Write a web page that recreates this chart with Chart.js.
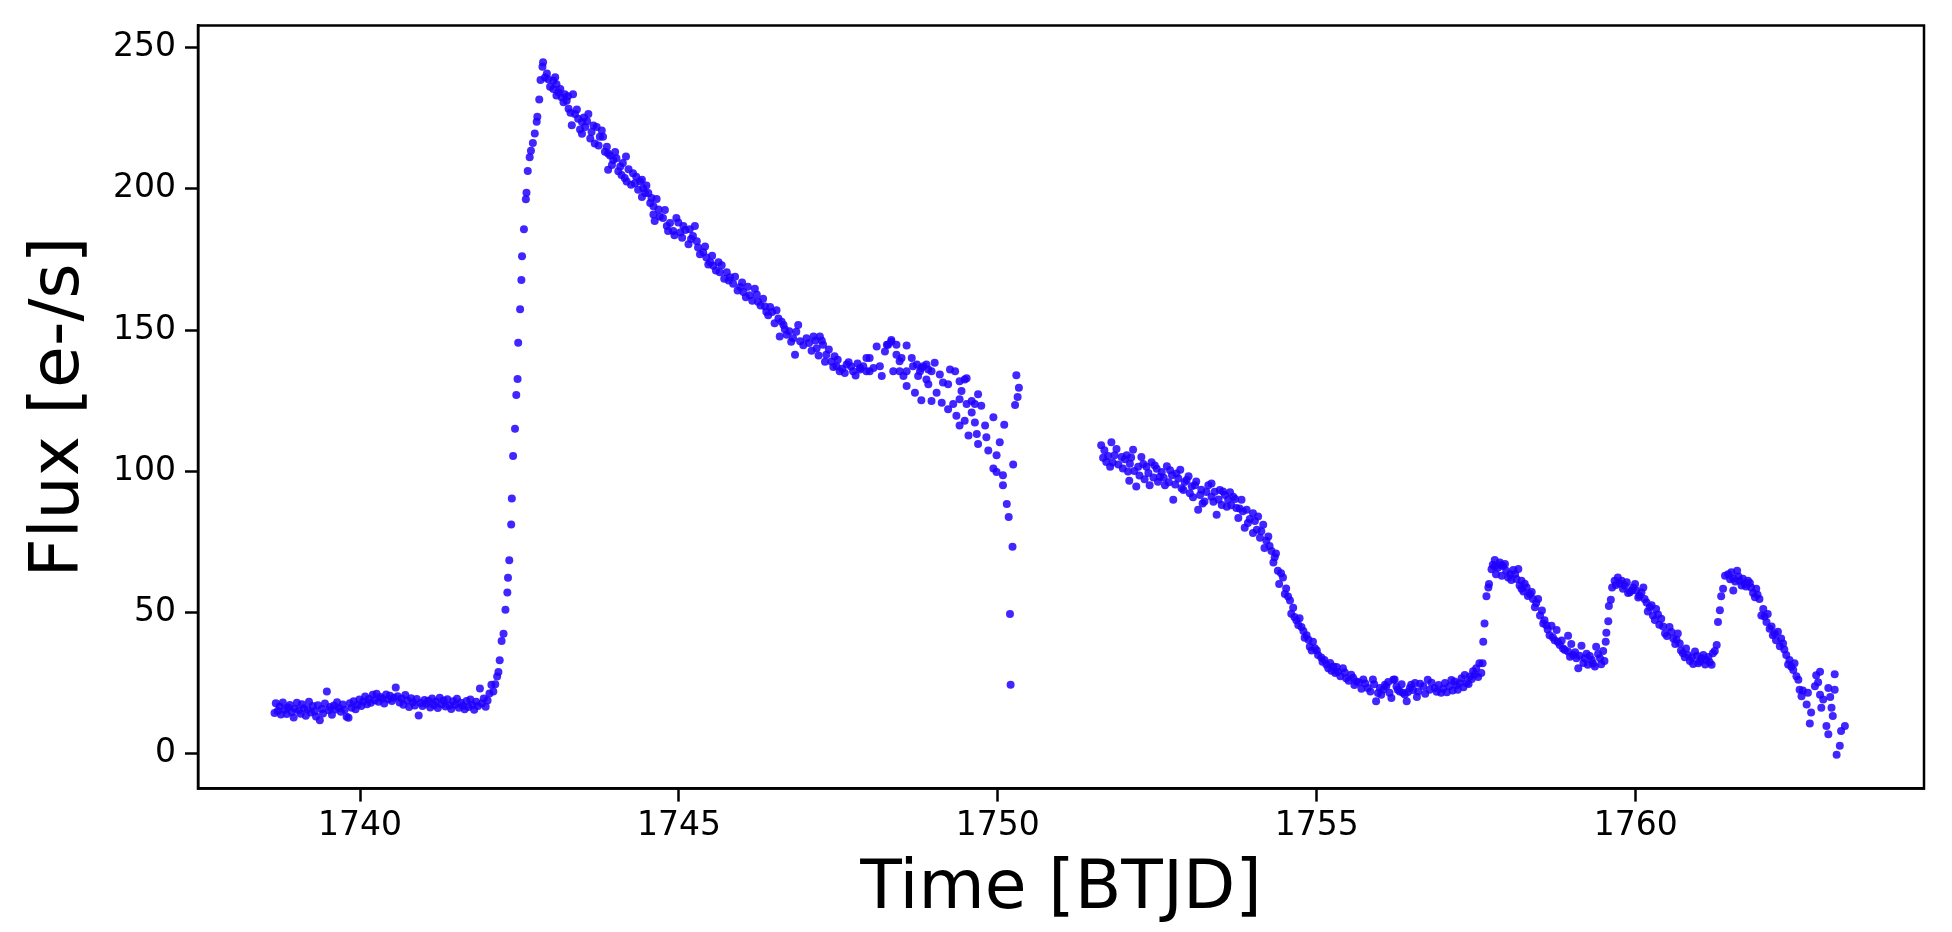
<!DOCTYPE html>
<html>
<head>
<meta charset="utf-8">
<script src="https://cdn.jsdelivr.net/npm/chart.js@4.4.1/dist/chart.umd.min.js"></script>
<style>
  html, body { margin: 0; padding: 0; background: #fff; }
</style>
</head>
<body>
<canvas id="chart" width="1952" height="932"></canvas>
<script>
const xTicks = [1740, 1745, 1750, 1755, 1760];
const yTicks = [0, 50, 100, 150, 200, 250];

// [time BTJD, flux e-/s]
const quiet = [
  [1738.66,14.5],[1738.68,17.9],[1738.71,15.2],[1738.74,16.8],[1738.76,13.9],[1738.79,18.2],[1738.82,15.6],[1738.85,14.1],
  [1738.87,16.4],[1738.90,17.3],[1738.93,14.8],[1738.96,12.9],[1738.98,16.0],[1739.01,18.1],[1739.04,15.3],[1739.07,14.2],
  [1739.09,17.6],[1739.12,16.1],[1739.15,13.5],[1739.18,15.8],[1739.20,18.4],[1739.23,14.6],[1739.26,16.9],[1739.29,15.1],
  [1739.31,13.2],[1739.34,17.2],[1739.37,11.9],[1739.40,15.9],[1739.42,14.3],[1739.45,17.8],[1739.48,22.1],[1739.51,15.4],
  [1739.53,16.6],[1739.56,13.8],[1739.59,17.1],[1739.62,15.7],[1739.64,18.3],[1739.67,16.2],[1739.70,14.9],[1739.73,17.5],
  [1739.76,15.6],[1739.79,13.1],[1739.82,12.8],[1739.84,17.9],[1739.87,16.3],[1739.90,18.6],[1739.93,15.8],[1739.96,17.4],
  [1739.99,19.2],[1740.02,16.9],[1740.05,18.5],[1740.08,20.3],[1740.11,17.6],[1740.14,19.4],[1740.17,18.1],[1740.20,20.9],
  [1740.23,19.0],[1740.26,21.3],[1740.29,18.4],[1740.32,20.1],[1740.35,19.5],[1740.38,17.8],[1740.41,21.0],[1740.44,19.3],
  [1740.47,20.6],[1740.50,18.7],[1740.53,19.9],[1740.56,23.5],[1740.59,20.4],[1740.62,18.2],[1740.65,19.6],[1740.68,17.4],
  [1740.71,20.8],[1740.74,18.9],[1740.77,16.6],[1740.80,19.7],[1740.83,18.3],[1740.86,17.1],[1740.89,19.4],[1740.92,13.6],
  [1740.95,18.0],[1740.98,16.9],[1741.01,19.1],[1741.04,17.7],[1741.07,18.8],[1741.10,16.4],[1741.13,19.6],[1741.16,17.3],
  [1741.19,18.5],[1741.22,16.2],[1741.25,19.9],[1741.28,17.6],[1741.31,18.9],[1741.34,16.8],[1741.37,19.3],[1741.40,17.1],
  [1741.43,15.9],[1741.46,18.6],[1741.49,17.4],[1741.52,19.5],[1741.55,16.3],[1741.58,18.1],[1741.61,17.0],[1741.64,15.8],
  [1741.67,18.7],[1741.70,16.6],[1741.73,19.2],[1741.76,17.3],[1741.79,15.6],[1741.82,18.4],[1741.85,16.9],[1741.88,23.1],
  [1741.91,17.8],[1741.94,19.6],[1741.97,16.7],[1742.00,18.9],[1742.03,21.4],[1742.06,24.5],[1742.09,22.1],[1742.12,24.6],
  [1742.15,27.4]
];

const rise = [
  [1742.17,29.0],[1742.19,33.1],[1742.22,39.9],[1742.25,42.5],[1742.28,51.0],[1742.31,57.1],[1742.32,62.3],[1742.34,68.5],
  [1742.37,81.2],[1742.38,90.4],[1742.40,105.4],[1742.43,115.1],[1742.45,127.0],[1742.47,132.7],[1742.48,145.5],[1742.51,157.4],
  [1742.53,167.7],[1742.54,176.1],[1742.57,185.7],[1742.60,196.3],[1742.61,198.6],[1742.63,206.3],[1742.66,211.2],[1742.68,213.5],
  [1742.71,216.2],[1742.74,219.6],[1742.77,223.7],[1742.78,225.5],[1742.81,231.6],[1742.83,238.5],[1742.86,243.2],[1742.87,244.8]
];

const decay = [
  [1742.90,239.4],[1742.93,240.8],[1742.95,238.8],[1742.98,236.1],[1743.03,238.2],[1743.03,235.3],[1743.06,239.5],[1743.08,237.0],
  [1743.08,233.0],[1743.11,234.2],[1743.14,235.3],[1743.16,232.4],[1743.19,230.6],[1743.21,233.5],[1743.24,231.2],[1743.26,232.8],
  [1743.27,228.3],[1743.30,226.9],[1743.32,222.5],[1743.34,233.5],[1743.37,226.5],[1743.40,228.1],[1743.42,224.8],[1743.45,221.0],
  [1743.48,223.6],[1743.48,219.5],[1743.51,225.2],[1743.53,221.9],[1743.56,223.9],[1743.58,226.5],[1743.61,217.8],[1743.63,220.1],
  [1743.66,222.4],[1743.68,216.0],[1743.71,221.9],[1743.74,215.3],[1743.76,218.4],[1743.79,220.6],[1743.81,218.4],[1743.84,213.1],
  [1743.87,214.9],[1743.89,212.5],[1743.89,206.7],[1743.92,211.8],[1743.95,208.4],[1743.97,210.2],[1744.00,213.0],[1744.02,210.8],
  [1744.05,206.2],[1744.08,207.9],[1744.10,204.9],[1744.12,209.1],[1744.15,203.8],[1744.17,211.4],[1744.18,202.6],[1744.21,206.9],
  [1744.25,201.4],[1744.28,205.5],[1744.31,202.0],[1744.33,204.3],[1744.36,199.7],[1744.39,202.6],[1744.42,203.2],[1744.42,197.1],
  [1744.44,200.2],[1744.47,198.5],[1744.49,201.2],[1744.52,198.5],[1744.55,195.0],[1744.57,196.7],[1744.60,193.8],[1744.60,190.9],
  [1744.62,188.6],[1744.65,196.4],[1744.68,192.7],[1744.70,190.2],[1744.75,189.7],[1744.78,192.5],[1744.81,186.8],[1744.83,185.1],
  [1744.86,187.9],[1744.91,185.1],[1744.93,183.6],[1744.96,189.7],[1744.99,188.1],[1745.02,184.5],[1745.05,182.7],[1745.07,186.8],
  [1745.10,185.4],[1745.15,180.4],[1745.17,185.7],[1745.19,182.2],[1745.22,183.3],[1745.25,186.8],[1745.28,181.4],[1745.30,179.2],
  [1745.33,176.8],[1745.38,177.5],[1745.41,179.6],[1745.43,175.7],[1745.46,173.2],[1745.49,174.0],[1745.52,176.3],[1745.54,172.8],
  [1745.58,171.1],[1745.62,174.0],[1745.64,170.5],[1745.67,172.9],[1745.71,168.2],[1745.75,170.5],[1745.78,167.5],[1745.80,168.7],
  [1745.85,166.4],[1745.88,168.9],[1745.92,164.0],[1745.96,165.2],[1745.99,166.8],[1746.01,163.5],[1746.05,161.6],[1746.08,165.3],
  [1746.11,162.3],[1746.15,160.4],[1746.19,164.6],[1746.22,162.6],[1746.24,160.0],[1746.28,158.7],[1746.32,161.1],[1746.35,158.3],
  [1746.37,156.5],[1746.40,155.2],[1746.43,158.2],[1746.46,156.4],[1746.50,152.4],[1746.53,157.0],[1746.56,154.1],[1746.58,147.7],
  [1746.61,152.9],[1746.64,151.8],[1746.66,150.3],[1746.69,148.3],[1746.73,149.6],[1746.76,145.9],[1746.79,147.1],[1746.82,141.3],
  [1746.84,149.4],[1746.87,151.8],[1746.90,146.0],[1746.95,144.6],[1747.00,147.1],[1747.04,145.4],[1747.08,142.7],[1747.11,147.7],
  [1747.14,146.3],[1747.16,143.6],[1747.19,141.0],[1747.21,147.7],[1747.24,146.2],[1747.26,144.8],[1747.29,138.8],[1747.31,141.3],
  [1747.35,143.1],[1747.39,138.9],[1747.42,136.9],[1747.44,140.7],[1747.47,137.2],[1747.49,139.5],[1747.52,135.4],[1747.56,136.3],
  [1747.60,134.8],[1747.63,137.8],[1747.66,138.6],[1747.70,137.1],[1747.73,135.4],[1747.77,133.9],[1747.80,138.2],[1747.84,136.0],
  [1747.84,136.6],[1747.89,137.2],[1747.94,135.4],[1747.94,140.1],[1747.99,140.1],[1747.99,135.4],[1748.05,136.6],[1748.10,144.2],
  [1748.15,137.2],[1748.18,133.7],[1748.23,142.4],[1748.26,144.8],[1748.28,144.8],[1748.33,146.5],[1748.33,145.9],[1748.36,135.4],
  [1748.41,144.8],[1748.41,141.3],[1748.46,135.4],[1748.46,139.0],[1748.49,140.1],[1748.52,133.7],[1748.57,144.5],[1748.57,130.2],
  [1748.57,135.4],[1748.65,140.1],[1748.67,137.2],[1748.70,127.8],[1748.73,137.8],[1748.75,133.7],[1748.78,135.4],[1748.80,136.6],
  [1748.80,125.2],[1748.83,137.2],[1748.88,137.8],[1748.88,132.5],[1748.91,130.8],[1748.91,136.0],[1748.96,135.4],[1748.96,124.9],
  [1749.01,138.4],[1749.04,127.8],[1749.09,134.3],[1749.12,124.3],[1749.14,131.4],[1749.22,130.8],[1749.22,122.0],[1749.25,136.0],
  [1749.30,123.8],[1749.33,135.4],[1749.35,119.7],[1749.40,131.9],[1749.40,125.5],[1749.40,116.2],[1749.43,128.4],[1749.48,117.9],
  [1749.48,132.5],[1749.51,132.9],[1749.51,123.8],[1749.54,112.7],[1749.59,124.9],[1749.59,120.8],[1749.64,123.8],[1749.64,117.3],
  [1749.67,113.2],[1749.69,127.3],[1749.69,109.7],[1749.74,123.2],[1749.80,116.2],[1749.82,112.1],[1749.85,107.4],[1749.93,119.1],
  [1749.93,101.0],[1749.98,105.7],[1749.98,99.8],[1750.03,110.3],[1750.08,98.6],[1750.10,116.5],[1750.08,95.1],[1750.14,88.4],
  [1750.17,83.8],[1750.19,49.5],[1750.20,24.5],[1750.23,73.3],[1750.24,102.4],[1750.27,123.5],[1750.29,134.0],[1750.31,126.3],
  [1750.33,129.6]
];

const afterGap = [
  [1751.62,109.2],[1751.65,104.8],[1751.67,107.5],[1751.70,103.3],[1751.73,105.4],[1751.76,101.6],[1751.78,110.3],[1751.80,103.1],
  [1751.83,105.7],[1751.86,107.9],[1751.89,102.4],[1751.94,105.1],[1751.96,101.0],[1751.99,104.3],[1752.02,105.7],[1752.04,99.9],
  [1752.06,96.7],[1752.07,102.7],[1752.09,104.9],[1752.12,107.6],[1752.14,100.1],[1752.17,94.6],[1752.20,101.6],[1752.22,98.5],
  [1752.25,105.1],[1752.28,102.6],[1752.30,97.2],[1752.33,101.6],[1752.36,99.4],[1752.38,95.1],[1752.41,103.2],[1752.44,97.8],
  [1752.46,102.1],[1752.49,100.9],[1752.51,96.3],[1752.54,98.1],[1752.57,99.8],[1752.60,97.7],[1752.62,95.1],[1752.65,101.8],
  [1752.68,96.1],[1752.70,100.4],[1752.73,98.6],[1752.75,89.9],[1752.78,95.3],[1752.80,99.2],[1752.83,97.5],[1752.86,100.6],
  [1752.88,94.0],[1752.91,93.4],[1752.93,96.2],[1752.96,96.9],[1752.99,98.3],[1753.01,92.2],[1753.04,94.7],[1753.06,90.8],
  [1753.09,95.1],[1753.11,96.4],[1753.14,86.4],[1753.17,91.6],[1753.19,93.5],[1753.21,88.6],[1753.24,89.3],[1753.27,92.7],
  [1753.30,95.1],[1753.35,95.7],[1753.35,91.0],[1753.38,89.2],[1753.40,92.8],[1753.43,84.6],[1753.46,90.0],[1753.48,93.4],
  [1753.51,88.1],[1753.53,92.9],[1753.56,91.6],[1753.59,87.5],[1753.61,89.9],[1753.64,92.6],[1753.66,88.0],[1753.69,91.0],
  [1753.72,90.2],[1753.74,87.0],[1753.77,83.5],[1753.79,86.8],[1753.82,89.9],[1753.84,85.9],[1753.87,80.0],[1753.90,86.4],
  [1753.92,81.7],[1753.95,83.1],[1754.00,85.2],[1754.00,78.2],[1754.03,82.4],[1754.06,79.3],[1754.08,84.0],[1754.11,76.5],
  [1754.13,78.8],[1754.16,81.1],[1754.18,72.9],[1754.21,75.4],[1754.24,76.9],[1754.26,73.6],[1754.29,71.8],[1754.32,67.7],
  [1754.34,69.6],[1754.36,70.9],[1754.39,64.8],[1754.41,60.1],[1754.44,63.9],[1754.47,62.4],[1754.50,56.6],[1754.52,58.5],
  [1754.55,55.7],[1754.58,54.3],[1754.60,49.6],[1754.63,51.7],[1754.65,48.4],[1754.68,47.3],[1754.71,45.6],[1754.73,48.0],
  [1754.76,44.9],[1754.79,43.5],[1754.81,41.1],[1754.84,42.0],[1754.87,40.4],[1754.89,37.9],[1754.92,36.6],[1754.94,39.7],
  [1754.97,37.4],[1755.00,36.6],[1755.02,35.0],[1755.07,34.1],[1755.09,32.6],[1755.12,33.2],[1755.15,31.6],[1755.18,30.3],
  [1755.21,32.2],[1755.23,29.4],[1755.26,30.9],[1755.29,28.6],[1755.31,30.7],[1755.33,29.1],[1755.37,27.5],[1755.41,30.3],
  [1755.44,28.8],[1755.46,26.8],[1755.50,25.9],[1755.54,28.0],[1755.57,26.9],[1755.59,24.4],[1755.62,25.6],[1755.66,25.3],
  [1755.70,23.0],[1755.73,26.3],[1755.76,24.9],[1755.80,23.3],[1755.84,22.1],[1755.88,26.3],[1755.90,24.6],[1755.93,18.6],
  [1755.96,21.5],[1755.99,23.3],[1756.01,20.9],[1756.04,22.7],[1756.07,24.5],[1756.09,23.9],[1756.12,25.4],[1756.14,21.6],
  [1756.17,19.8],[1756.20,26.2],[1756.22,26.3],[1756.25,23.8],[1756.27,22.7],[1756.30,22.1],[1756.33,24.6],[1756.35,21.6],
  [1756.38,21.0],[1756.41,18.6],[1756.43,21.9],[1756.46,23.3],[1756.48,24.5],[1756.51,22.6],[1756.54,25.1],[1756.57,20.1],
  [1756.59,22.1],[1756.62,24.8],[1756.67,23.9],[1756.70,21.3],[1756.74,26.2],[1756.77,22.7],[1756.80,25.2],[1756.85,23.3],
  [1756.88,22.0],[1756.91,24.4],[1756.95,21.6],[1756.98,23.0],[1757.01,25.1],[1757.04,21.8],[1757.08,23.9],[1757.11,26.1],
  [1757.13,22.4],[1757.16,25.6],[1757.19,24.3],[1757.21,22.7],[1757.24,25.0],[1757.27,26.8],[1757.30,23.6],[1757.32,27.9],
  [1757.35,25.1],[1757.38,24.7],[1757.40,27.4],[1757.43,26.5],[1757.45,29.2],[1757.48,28.1],[1757.50,30.3],[1757.53,27.2],
  [1757.55,32.1]
];

const pulses = [
  [1757.58,28.6],[1757.60,32.1],[1757.61,39.7],[1757.63,46.1],[1757.66,55.8],[1757.69,58.9],[1757.70,60.1],[1757.74,65.3],
  [1757.76,66.9],[1757.79,68.6],[1757.79,66.3],[1757.81,63.6],[1757.84,65.9],[1757.87,67.7],[1757.89,66.8],[1757.90,63.0],
  [1757.92,66.5],[1757.95,67.2],[1757.97,64.8],[1758.00,62.4],[1758.03,63.6],[1758.05,61.5],[1758.08,65.1],[1758.11,63.7],
  [1758.13,61.9],[1758.16,65.4],[1758.18,59.6],[1758.21,61.3],[1758.21,58.4],[1758.24,57.5],[1758.26,60.2],[1758.29,58.9],
  [1758.31,55.9],[1758.34,56.6],[1758.37,57.3],[1758.39,54.8],[1758.42,51.9],[1758.44,53.4],[1758.47,54.8],[1758.50,49.0],
  [1758.53,50.7],[1758.55,46.1],[1758.57,47.3],[1758.60,45.5],[1758.62,44.0],[1758.65,42.0],[1758.68,45.3],[1758.70,41.3],
  [1758.73,40.2],[1758.76,43.8],[1758.78,39.6],[1758.81,38.5],[1758.84,40.1],[1758.86,37.3],[1758.89,36.8],[1758.94,41.8],
  [1758.94,36.2],[1758.97,34.4],[1758.99,38.9],[1759.02,35.0],[1759.05,36.0],[1759.07,33.8],[1759.10,30.3],[1759.12,34.7],
  [1759.15,38.3],[1759.18,32.2],[1759.20,33.8],[1759.23,35.4],[1759.25,31.5],[1759.28,34.6],[1759.31,33.2],[1759.33,32.0],
  [1759.36,30.9],[1759.38,37.9],[1759.41,35.3],[1759.44,33.8],[1759.46,31.7],[1759.49,36.4],[1759.51,32.9],
  [1759.53,39.7],[1759.54,42.9],[1759.57,46.9],[1759.58,52.3],[1759.61,54.5],[1759.63,58.9],[1759.67,61.3],[1759.69,59.8],
  [1759.72,62.4],[1759.75,60.3],[1759.78,61.3],[1759.80,58.4],[1759.83,59.5],[1759.86,60.7],[1759.88,56.9],[1759.91,57.2],
  [1759.94,57.9],[1759.96,58.9],[1759.99,60.1],[1760.01,57.8],[1760.04,55.3],[1760.06,56.0],[1760.09,57.1],[1760.12,58.9],
  [1760.14,54.8],[1760.17,53.6],[1760.19,50.4],[1760.22,51.9],[1760.25,52.6],[1760.27,49.0],[1760.30,47.4],[1760.32,51.3],
  [1760.35,49.3],[1760.37,45.7],[1760.40,47.8],[1760.43,45.1],[1760.46,42.6],[1760.49,41.7],[1760.53,44.9],[1760.56,43.1],
  [1760.59,40.8],[1760.62,38.9],[1760.64,40.4],[1760.66,42.6],[1760.69,39.1],[1760.71,36.6],[1760.74,35.6],[1760.77,34.2],
  [1760.79,37.3],[1760.82,35.0],[1760.85,32.9],[1760.88,34.1],[1760.90,31.8],[1760.93,36.2],[1760.96,34.7],[1760.98,32.1],
  [1761.01,32.7],[1761.03,33.9],[1761.06,35.0],[1761.09,31.6],[1761.11,33.2],[1761.14,34.3],[1761.16,32.4],[1761.19,31.5],
  [1761.21,35.6],[1761.24,36.4],[1761.27,38.5],
  [1761.29,46.7],[1761.32,50.8],[1761.34,55.8],[1761.37,58.4],[1761.40,63.0],[1761.45,63.6],[1761.48,61.8],[1761.50,64.3],
  [1761.53,62.1],[1761.53,57.8],[1761.56,61.0],[1761.59,64.8],[1761.61,62.8],[1761.63,61.3],[1761.66,59.6],[1761.68,62.0],
  [1761.71,60.1],[1761.73,59.2],[1761.76,61.3],[1761.79,60.5],[1761.81,58.9],[1761.84,56.9],[1761.87,55.4],[1761.89,58.4],
  [1761.91,56.3],[1761.94,54.8],[1761.97,49.0],[1762.00,51.3],[1762.02,48.6],[1762.05,46.7],[1762.07,49.5],[1762.10,44.3],
  [1762.13,45.1],[1762.15,42.0],[1762.18,42.6],[1762.20,40.2],[1762.23,43.2],[1762.26,38.1],[1762.28,40.8],[1762.31,39.1],
  [1762.33,36.9],[1762.36,35.0],[1762.39,31.6],[1762.41,33.2],[1762.44,30.8],[1762.47,29.7],[1762.49,32.1],[1762.52,27.5],
  [1762.55,26.2],[1762.57,22.7],[1762.60,20.4],[1762.62,22.4],[1762.68,17.5],[1762.70,21.6],[1762.73,10.7],[1762.75,14.6],
  [1762.81,23.9],[1762.83,27.8],[1762.86,25.3],[1762.89,29.1],[1762.89,20.9],[1762.91,16.3],[1762.94,19.2],[1762.99,9.9],
  [1763.02,23.3],[1763.02,6.9],[1763.05,20.1],[1763.07,16.3],[1763.09,13.4],[1763.12,28.2],[1763.12,22.7],[1763.15,-0.3],
  [1763.20,2.9],[1763.22,8.1],[1763.28,9.9]
];

const points = [...quiet, ...rise, ...decay, ...afterGap, ...pulses].map(p => ({ x: p[0], y: p[1] }));

// full box around the plot area, like matplotlib spines
const frame = {
  id: "frame",
  afterDraw(chart) {
    const { ctx, chartArea: a } = chart;
    ctx.save();
    ctx.strokeStyle = "#000";
    ctx.lineWidth = 2.5;
    ctx.strokeRect(a.left, a.top, a.right - a.left, a.bottom - a.top);
    ctx.restore();
  }
};

const tickFont = { family: "DejaVu Sans", size: 33, lineHeight: 1 };
const titleFont = { family: "DejaVu Sans", size: 68, lineHeight: 1 };

new Chart(document.getElementById("chart"), {
  type: "scatter",
  data: {
    datasets: [{
      data: points,
      backgroundColor: "rgba(32,0,255,0.85)",
      borderWidth: 0,
      pointRadius: 4
    }]
  },
  options: {
    responsive: false,
    animation: false,
    layout: { padding: { top: 18, right: 28, left: 0, bottom: 0 } },
    plugins: { legend: { display: false }, tooltip: { enabled: false } },
    scales: {
      x: {
        type: "linear",
        min: 1737.46,
        max: 1764.52,
        afterBuildTicks: s => { s.ticks = xTicks.map(v => ({ value: v })); },
        afterFit: s => { s.height = 143.4; },
        grid: { display: true, drawOnChartArea: false, drawTicks: true, tickLength: 13, tickWidth: 2.5, tickColor: "#000" },
        border: { display: true, color: "#000", width: 2.5 },
        ticks: { color: "#000", font: tickFont, padding: 8, maxRotation: 0, callback: v => String(v) },
        title: { display: true, text: "Time [BTJD]", color: "#000", font: titleFont, padding: { top: 0, bottom: 8 } }
      },
      y: {
        type: "linear",
        min: -12.3,
        max: 257.8,
        afterBuildTicks: s => { s.ticks = yTicks.map(v => ({ value: v })); },
        afterFit: s => { s.width = 198; },
        grid: { display: true, drawOnChartArea: false, drawTicks: true, tickLength: 13, tickWidth: 2.5, tickColor: "#000" },
        border: { display: true, color: "#000", width: 2.5 },
        ticks: { color: "#000", font: tickFont, padding: 9, callback: v => String(v) },
        title: { display: true, text: "Flux [e-/s]", color: "#000", font: titleFont, padding: { top: 26, bottom: 0 } }
      }
    }
  },
  plugins: [frame]
});
</script>
</body>
</html>
